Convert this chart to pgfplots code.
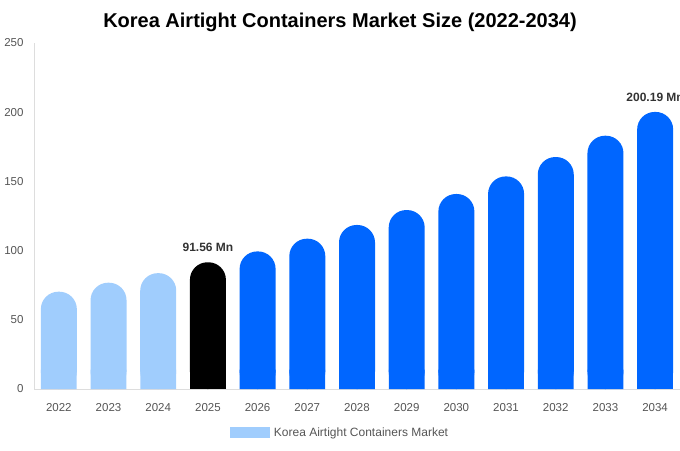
\documentclass[border=0pt]{standalone}
\usepackage{fontspec}
\setmainfont{Liberation Sans}
\usepackage{pgfplots}
\usepackage{pgfplotstable}
\pgfplotsset{compat=1.18}

\definecolor{histbar}{HTML}{A0CDFD}
\definecolor{forebar}{HTML}{0066FF}
\definecolor{ticktext}{HTML}{555555}
\definecolor{axisgrey}{HTML}{DDDDDD}
\definecolor{labeltext}{HTML}{333333}

\pgfkeys{/pgf/number format/assume math mode=true}

% market size, Mn
\pgfplotstableread{
year value
2022 70.3
2023 76.8
2024 83.7
}\histdata
\pgfplotstableread{
year value
2025 91.56
}\basedata
\pgfplotstableread{
year value
2026 99.4
2027 108.6
2028 118.5
2029 129.3
2030 140.9
2031 153.6
2032 167.6
2033 183.0
}\foredata
\pgfplotstableread{
year value
2034 200.19
}\enddata

% rounded top bar, and a square foot under it
\pgfplotsset{
    topbar/.style={ybar, bar width=36pt, bar shift=0pt, draw=none, rounded corners=17.5pt},
    footbar/.style={ybar, bar width=35.8pt, bar shift=0pt, draw=none, forget plot,
                    y filter/.expression={min(y,14)}},
}

\begin{document}
\begin{tikzpicture}
\path[use as bounding box] (0,0) rectangle (680pt,450pt);
\clip (0,0) rectangle (680pt,450pt);
\begin{axis}[
    at={(34pt,61pt)}, anchor=south west,
    scale only axis,
    width=646pt, height=346pt,
    xmin=2021.5, xmax=2034.5,
    ymin=0, ymax=250,
    xtick={2022,...,2034},
    xticklabels={2022,2023,2024,2025,2026,2027,2028,2029,2030,2031,2032,2033,2034},
    ytick={0,50,...,250},
    axis x line*=bottom, axis y line*=left,
    axis line style={draw=axisgrey, line width=0.8pt, -},
    major tick style={draw=none},
    ticklabel style={font=\fontsize{11.5}{13}\selectfont, text=ticktext},
    yticklabel style={xshift=-7pt},
    xticklabel style={yshift=-11pt},
    legend style={at={(axis description cs:0.4737,-0.127)}, anchor=center,
                  draw=none, fill=none, column sep=2pt,
                  font=\fontsize{12}{14}\selectfont, text=ticktext},
    legend image code/.code={\fill[histbar, sharp corners] (0pt,-5.5pt) rectangle (40pt,5.5pt);},
    nodes near coords style={font=\fontsize{12}{14}\selectfont\bfseries,
                             text=labeltext, anchor=south, yshift=7pt},
    clip=false,
]
\addplot[topbar, fill=histbar] table[x=year, y=value] {\histdata};
\addlegendentry{Korea Airtight Containers Market}
\addplot[footbar, fill=histbar] table[x=year, y=value] {\histdata};

\addplot[topbar, fill=black, forget plot,
         nodes near coords={\pgfmathprintnumber[fixed,precision=2,fixed zerofill]{\pgfplotspointmeta} Mn}]
         table[x=year, y=value] {\basedata};
\addplot[footbar, fill=black] table[x=year, y=value] {\basedata};

\addplot[topbar, fill=forebar, forget plot] table[x=year, y=value] {\foredata};
\addplot[footbar, fill=forebar] table[x=year, y=value] {\foredata};

\addplot[topbar, fill=forebar, forget plot,
         nodes near coords={\pgfmathprintnumber[fixed,precision=2,fixed zerofill]{\pgfplotspointmeta} Mn}]
         table[x=year, y=value] {\enddata};
\addplot[footbar, fill=forebar] table[x=year, y=value] {\enddata};
\end{axis}
\node[font=\fontsize{20}{24}\selectfont\bfseries, anchor=base] at (340pt,422pt)
    {Korea Airtight Containers Market Size (2022-2034)};
\end{tikzpicture}
\end{document}
